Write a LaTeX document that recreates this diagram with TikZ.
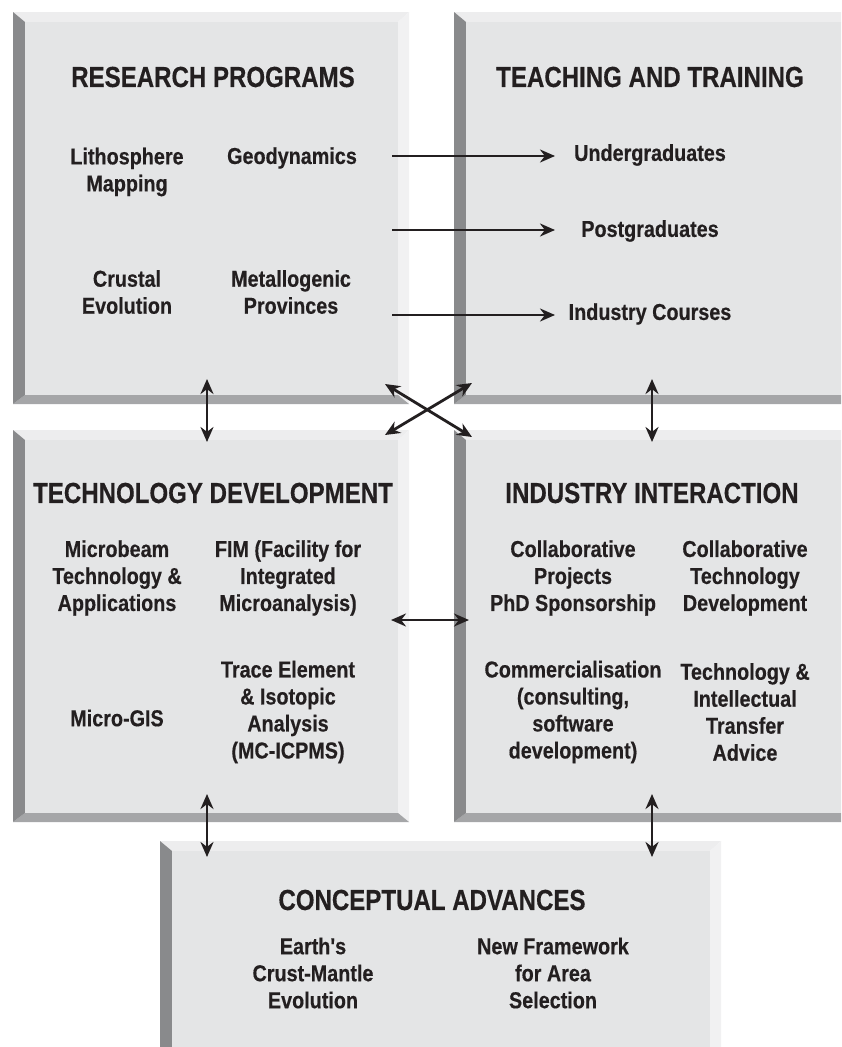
\documentclass[tikz,border=0pt]{standalone}
\usepackage{fontspec}
\setmainfont{Liberation Sans}[FakeStretch=0.86, Ligatures=TeXOff, BoldFeatures={FakeBold=0.4}]
\newfontfamily\ttlfamily{Liberation Sans}[FakeStretch=0.83, Ligatures=TeXOff, BoldFeatures={FakeBold=0.4}]
\usetikzlibrary{arrows.meta}
\definecolor{facecol}{HTML}{E4E5E6}
\definecolor{bevleft}{HTML}{898A8C}
\definecolor{bevbot}{HTML}{A5A6A8}
\definecolor{bevtop}{HTML}{EDEDEE}
\definecolor{bevright}{HTML}{F1F1F2}
\definecolor{ink}{HTML}{231F20}
\newcommand\bevbox[5]{%
  \fill[bevtop] (#2,#3) -- (#4,#3) -- (#4-11,#3+10) -- (#2+12,#3+10) -- cycle;
  \fill[bevright] (#4,#3) -- (#4,#5) -- (#4-11,#5-9) -- (#4-11,#3+10) -- cycle;
  \fill[bevbot] (#2,#5) -- (#4,#5) -- (#4-11,#5-9) -- (#2+12,#5-9) -- cycle;
  \fill[bevleft] (#2,#3) -- (#2+12,#3+10) -- (#2+12,#5-9) -- (#2,#5) -- cycle;
  \node[fill=facecol, draw=none, inner sep=0pt, anchor=north west,
        minimum width={#4-#2-23}, minimum height={#5-#3-19}] (#1) at (#2+12,#3+10) {};
}
\tikzset{
  lbl/.style={align=center, inner sep=0pt, text=ink,
    font=\fontsize{23}{27}\selectfont\bfseries},
  ttl/.style={align=center, inner sep=0pt, text=ink,
    font=\ttlfamily\fontsize{29}{33}\selectfont\bfseries},
  arr/.style={draw=ink, line width=2.8pt, -{Stealth[length=15pt,width=13pt]}},
  darr/.style={draw=ink, line width=2.8pt, {Stealth[length=15pt,width=13pt]}-{Stealth[length=15pt,width=13pt]}},
}
\begin{document}
\begin{tikzpicture}[x=1pt,y=-1pt]
\useasboundingbox (0,0) rectangle (841,1047);
\clip (0,0) rectangle (841,1047);
\fill[white] (0,0) rectangle (841,1047);

\bevbox{research}{13}{12}{409}{404}
\bevbox{teaching}{454}{12}{853}{404}
\bevbox{tech}{13}{430}{409}{822}
\bevbox{industry}{454}{430}{853}{822}
\bevbox{concept}{160}{841}{721}{1060}

% Research programs
\node[ttl] (rpT) at (213,77) {RESEARCH PROGRAMS};
\node[lbl] (litho) at (127,172) {Lithosphere\\Mapping};
\node[lbl] (geo) at (292,158) {Geodynamics};
\node[lbl] (crust) at (127,292) {Crustal\\Evolution};
\node[lbl] (metal) at (291,292) {Metallogenic\\Provinces};

% Teaching and training
\node[ttl] (ttT) at (650,77) {TEACHING AND TRAINING};
\node[lbl] (under) at (650,155) {Undergraduates};
\node[lbl] (post) at (650,231) {Postgraduates};
\node[lbl] (indc) at (650,314) {Industry Courses};

% Technology development
\node[ttl] (tdT) at (213,493) {TECHNOLOGY DEVELOPMENT};
\node[lbl] (micro) at (117,578) {Microbeam\\Technology \&\\Applications};
\node[lbl] (fim) at (288,578) {FIM (Facility for\\Integrated\\Microanalysis)};
\node[lbl] (mgis) at (117,718) {Micro-GIS};
\node[lbl] (trace) at (288,712) {Trace Element\\\& Isotopic\\Analysis\\(MC-ICPMS)};

% Industry interaction
\node[ttl] (iiT) at (652,493) {INDUSTRY INTERACTION};
\node[lbl] (collp) at (573,578) {Collaborative\\Projects\\PhD Sponsorship};
\node[lbl] (collt) at (745,578) {Collaborative\\Technology\\Development};
\node[lbl] (comm) at (573,712) {Commercialisation\\(consulting,\\software\\development)};
\node[lbl] (ttadv) at (745,712) {Technology \&\\Intellectual\\Transfer\\Advice};

% Conceptual advances
\node[ttl] (caT) at (432,900) {CONCEPTUAL ADVANCES};
\node[lbl] (earth) at (313,973) {Earth's\\Crust-Mantle\\Evolution};
\node[lbl] (frame) at (553,973) {New Framework\\for Area\\Selection};

% connector end points
\coordinate (a1s) at (392,156); \coordinate (a1e) at (555,156);
\coordinate (a2s) at (392,230); \coordinate (a2e) at (555,230);
\coordinate (a3s) at (392,315); \coordinate (a3e) at (555,315);
\coordinate (vl1) at (207,379); \coordinate (vl2) at (207,442);
\coordinate (vr1) at (652,379); \coordinate (vr2) at (652,442);
\coordinate (xtl) at (385,384); \coordinate (xbr) at (472,437);
\coordinate (xtr) at (472,383); \coordinate (xbl) at (385,435);
\coordinate (hm1) at (391,620); \coordinate (hm2) at (469,620);
\coordinate (bl1) at (207,794); \coordinate (bl2) at (207,857);
\coordinate (br1) at (652,794); \coordinate (br2) at (652,857);

\draw[arr] (a1s) -- (a1e);
\draw[arr] (a2s) -- (a2e);
\draw[arr] (a3s) -- (a3e);
\draw[darr] (vl1) -- (vl2);
\draw[darr] (vr1) -- (vr2);
\draw[darr] (xtl) -- (xbr);
\draw[darr] (xtr) -- (xbl);
\draw[darr] (hm1) -- (hm2);
\draw[darr] (bl1) -- (bl2);
\draw[darr] (br1) -- (br2);
\end{tikzpicture}
\end{document}
